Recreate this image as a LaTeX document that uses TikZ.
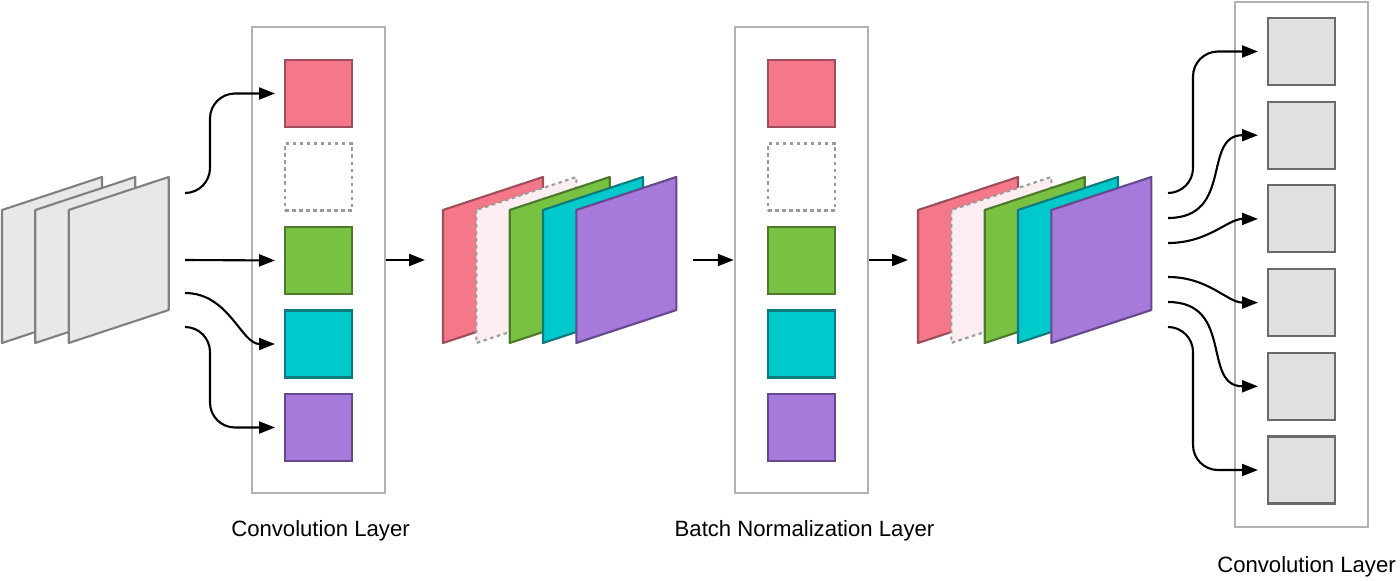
\documentclass[tikz,border=0pt]{standalone}
\usepackage{fontspec}
\setmainfont{Liberation Sans}
\usepackage{tikz}
\usetikzlibrary{arrows.meta,positioning}

\definecolor{pinkc}{HTML}{F5788A}
\definecolor{pinkd}{HTML}{9E4D5A}
\definecolor{palec}{HTML}{FCEEF0}
\definecolor{greenc}{HTML}{79C142}
\definecolor{greend}{HTML}{4B7A2B}
\definecolor{cyanc}{HTML}{00C9CB}
\definecolor{cyand}{HTML}{0F7A7C}
\definecolor{purplec}{HTML}{A67ADA}
\definecolor{purpled}{HTML}{65488D}
\definecolor{sheetc}{HTML}{E8E8EA}
\definecolor{sheetd}{HTML}{808080}
\definecolor{cellc}{HTML}{E0E0E0}
\definecolor{celld}{HTML}{6A6A6A}
\definecolor{boxgray}{HTML}{B2B2B2}
\definecolor{dashgray}{HTML}{9A9A9A}

\begin{document}
\begin{tikzpicture}
[
    layer/.style = {draw=boxgray, line width=0.7pt, minimum width=1.33cm, inner sep=0pt},
    cell/.style = {draw, line width=0.6pt, minimum size=0.67cm, inner sep=0pt, outer sep=0pt},
    empty cell/.style = {cell, draw=dashgray, dash pattern=on 1pt off 1pt},
    gray cell/.style = {cell, draw=celld, fill=cellc},
    fmap/.style = {line width=0.6pt, line join=round},
    flow/.style = {-{Triangle[length=1.6mm,width=1.2mm]}, line width=0.6pt},
    feed/.style = {flow, shorten >=0.1cm},
    layername/.style = {font=\fontsize{6.3}{8}\selectfont, anchor=base},
]
    \useasboundingbox (0,0) rectangle (14,-5.8);

    % input feature maps
    \draw[fmap, draw=sheetd, fill=sheetc] (0.02,-2.10) -- ++(0,-1.33) -- ++(1,0.33) -- ++(0,1.33) -- cycle;
    \draw[fmap, draw=sheetd, fill=sheetc] (0.353,-2.10) -- ++(0,-1.33) -- ++(1,0.33) -- ++(0,1.33) -- cycle;
    \draw[fmap, draw=sheetd, fill=sheetc] (0.687,-2.10) -- ++(0,-1.33) -- ++(1,0.33) -- ++(0,1.33) -- cycle;

    % first convolution layer
    \node[layer, minimum height=4.66cm] (conv1) at (3.185,-2.60) {};
    \node[cell, draw=pinkd, fill=pinkc] (c1r) at (3.185,-0.935) {};
    \node[empty cell, below=0.165cm of c1r] (c1e) {};
    \node[cell, draw=greend, fill=greenc, below=0.165cm of c1e] (c1g) {};
    \node[cell, draw=cyand, fill=cyanc, below=0.165cm of c1g] (c1c) {};
    \node[cell, draw=purpled, fill=purplec, below=0.165cm of c1c] (c1p) {};
    \node[layername] (conv1name) at ([xshift=0.02cm,yshift=-0.42cm]conv1.south) {Convolution Layer};

    \coordinate (in1) at (1.85,-1.93);
    \coordinate (in2) at (1.85,-2.60);
    \coordinate (in3) at (1.85,-2.93);
    \coordinate (in4) at (1.85,-3.27);
    \draw[feed, rounded corners=0.25cm] (in1) -- ++(0.25,0) |- (c1r.west);
    \draw[feed] (in2) -- (c1g.west);
    \draw[feed] (in3) to[out=0,in=180] (c1c.west);
    \draw[feed, rounded corners=0.25cm] (in4) -- ++(0.25,0) |- (c1p.west);

    % output of the convolution
    \draw[fmap, draw=pinkd, fill=pinkc] (4.43,-2.10) -- ++(0,-1.33) -- ++(1,0.33) -- ++(0,1.33) -- cycle;
    \draw[fmap, draw=dashgray, fill=palec, dash pattern=on 1pt off 1pt] (4.763,-2.10) -- ++(0,-1.33) -- ++(1,0.33) -- ++(0,1.33) -- cycle;
    \draw[fmap, draw=greend, fill=greenc] (5.097,-2.10) -- ++(0,-1.33) -- ++(1,0.33) -- ++(0,1.33) -- cycle;
    \draw[fmap, draw=cyand, fill=cyanc] (5.43,-2.10) -- ++(0,-1.33) -- ++(1,0.33) -- ++(0,1.33) -- cycle;
    \draw[fmap, draw=purpled, fill=purplec] (5.763,-2.10) -- ++(0,-1.33) -- ++(1,0.33) -- ++(0,1.33) -- cycle;

    \coordinate (st1in) at (4.25,-2.60);
    \coordinate (st1out) at (6.93,-2.60);
    \draw[flow] (conv1.east) -- (st1in);

    % batch normalization layer
    \node[layer, minimum height=4.66cm] (bn) at (8.015,-2.60) {};
    \node[cell, draw=pinkd, fill=pinkc] (bnr) at (8.015,-0.935) {};
    \node[empty cell, below=0.165cm of bnr] (bne) {};
    \node[cell, draw=greend, fill=greenc, below=0.165cm of bne] (bng) {};
    \node[cell, draw=cyand, fill=cyanc, below=0.165cm of bng] (bnc) {};
    \node[cell, draw=purpled, fill=purplec, below=0.165cm of bnc] (bnp) {};
    \node[layername] (bnname) at ([xshift=0.03cm,yshift=-0.42cm]bn.south) {Batch Normalization Layer};

    \draw[flow] (st1out) -- (bn.west);

    % output of the normalization
    \draw[fmap, draw=pinkd, fill=pinkc] (9.18,-2.10) -- ++(0,-1.33) -- ++(1,0.33) -- ++(0,1.33) -- cycle;
    \draw[fmap, draw=dashgray, fill=palec, dash pattern=on 1pt off 1pt] (9.513,-2.10) -- ++(0,-1.33) -- ++(1,0.33) -- ++(0,1.33) -- cycle;
    \draw[fmap, draw=greend, fill=greenc] (9.847,-2.10) -- ++(0,-1.33) -- ++(1,0.33) -- ++(0,1.33) -- cycle;
    \draw[fmap, draw=cyand, fill=cyanc] (10.18,-2.10) -- ++(0,-1.33) -- ++(1,0.33) -- ++(0,1.33) -- cycle;
    \draw[fmap, draw=purpled, fill=purplec] (10.513,-2.10) -- ++(0,-1.33) -- ++(1,0.33) -- ++(0,1.33) -- cycle;

    \coordinate (st2in) at (9.08,-2.60);
    \draw[flow] (bn.east) -- (st2in);

    % second convolution layer
    \node[layer, minimum height=5.25cm] (conv2) at (13.015,-2.645) {};
    \node[gray cell] (g1) at (13.015,-0.515) {};
    \node[gray cell, below=0.167cm of g1] (g2) {};
    \node[gray cell, below=0.167cm of g2] (g3) {};
    \node[gray cell, below=0.167cm of g3] (g4) {};
    \node[gray cell, below=0.167cm of g4] (g5) {};
    \node[gray cell, below=0.167cm of g5] (g6) {};
    \node[layername] (conv2name) at ([xshift=0.05cm,yshift=-0.44cm]conv2.south) {Convolution Layer};

    \coordinate (out1) at (11.68,-1.93);
    \coordinate (out2) at (11.68,-2.18);
    \coordinate (out3) at (11.68,-2.43);
    \coordinate (out4) at (11.68,-2.77);
    \coordinate (out5) at (11.68,-3.02);
    \coordinate (out6) at (11.68,-3.27);
    \draw[feed, rounded corners=0.25cm] (out1) -- ++(0.25,0) |- (g1.west);
    \draw[feed] (out2) to[out=0,in=180,looseness=1.3] (g2.west);
    \draw[feed] (out3) to[out=0,in=180] (g3.west);
    \draw[feed] (out4) to[out=0,in=180] (g4.west);
    \draw[feed] (out5) to[out=0,in=180,looseness=1.3] (g5.west);
    \draw[feed, rounded corners=0.25cm] (out6) -- ++(0.25,0) |- (g6.west);
\end{tikzpicture}
\end{document}
